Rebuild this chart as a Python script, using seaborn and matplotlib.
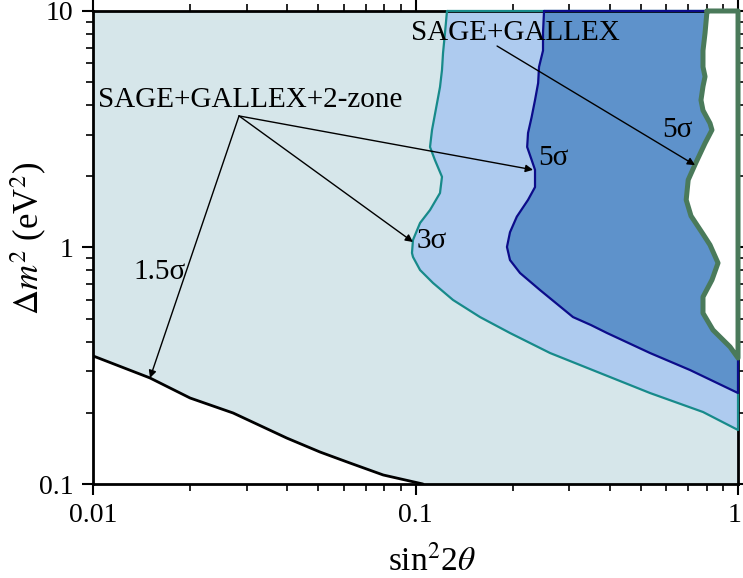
#!/usr/bin/env python3

import seaborn as sns
from matplotlib import pyplot as plt
from matplotlib import ticker as plticker
from matplotlib import transforms as mtransforms


# 1.5 sigma (SAGE+GALLEX+2-zone) lower boundary, black line
x_15s = [0.0100, 0.0150, 0.0200, 0.0272, 0.0399, 0.0506, 0.0626, 0.0794, 0.1055]
y_15s = [0.348, 0.281, 0.231, 0.1996, 0.1564, 0.1365, 0.1227, 0.1092, 0.100]

# 3 sigma (SAGE+GALLEX+2-zone), teal line
x_3s = [0.1252, 0.1234, 0.1217, 0.1208, 0.1191, 0.1166, 0.1125, 0.1109,
        0.1149, 0.1208, 0.1191, 0.1109, 0.1033, 0.0982, 0.0975, 0.0982,
        0.1033, 0.1133, 0.1307, 0.1585, 0.1963, 0.2613, 0.3734, 0.5335,
        0.7787, 1.0]
y_3s = [10.0, 8.07, 6.64, 5.63, 4.77, 4.08, 3.14, 2.66,
        2.34, 1.99, 1.70, 1.44, 1.27, 1.076, 0.948, 0.912,
        0.803, 0.708, 0.600, 0.508, 0.435, 0.358, 0.2946, 0.2425,
        0.2016, 0.1692]

# 5 sigma (SAGE+GALLEX+2-zone), navy line
x_5s = [0.2503, 0.2485, 0.2485, 0.2415, 0.2400, 0.2347, 0.2290, 0.2233,
        0.2219, 0.2290, 0.2347, 0.2347, 0.2233, 0.2061, 0.1963, 0.1921,
        0.1963, 0.2109, 0.2432, 0.3078, 0.3500, 0.3924, 0.5335, 0.7097, 1.0]
y_5s = [10.0, 8.07, 6.80, 5.80, 4.96, 4.20, 3.55, 3.05,
        2.66, 2.35, 2.13, 1.80, 1.59, 1.35, 1.16, 1.005,
        0.885, 0.780, 0.661, 0.508, 0.470, 0.435, 0.358, 0.3034, 0.2425]

# 5 sigma (SAGE+GALLEX), thick green line
x_sg = [0.8014, 0.7902, 0.7787, 0.7787, 0.7902, 0.7787, 0.7676, 0.7787,
        0.8188, 0.8302, 0.7902, 0.7388, 0.7006, 0.6907, 0.7148, 0.7787,
        0.8188, 0.8670, 0.8302, 0.7787, 0.7787, 0.8362, 0.9447, 1.0]
y_sg = [10.0, 8.07, 6.80, 5.80, 5.28, 4.80, 4.20, 3.80,
        3.35, 3.14, 2.76, 2.27, 1.93, 1.59, 1.36, 1.14,
        1.025, 0.860, 0.729, 0.618, 0.528, 0.448, 0.380, 0.341]

x_ticks = [0.01, 0.1, 1]
x_tick_labels = ['0.01', '0.1', '1']
y_ticks = [0.1, 1, 10]
y_tick_labels = ['0.1', '1', '10']
minor_mult = [2, 3, 4, 5, 6, 7, 8, 9]

# annotation anchors (data coords)
src_2zone = (0.02836, 3.60)
tgt_2zone = [(0.01502, 0.2807), (0.0982, 1.055), (0.2314, 2.13)]
src_sg = (0.1790, 7.11)
tgt_sg = (0.7357, 2.23)

labels = [
    ('SAGE+GALLEX+2-zone', 0.01036, 4.20),
    ('SAGE+GALLEX', 0.0968, 8.07),
    ('1.5σ', 0.0133, 0.788),
    ('3σ', 0.1011, 1.065),
    ('5σ', 0.2398, 2.39),
    ('5σ', 0.5813, 3.14),
]

C_BG = '#d6e6ea'
C_3S = '#aecbef'
C_5S = '#5e92cb'
C_TEAL = '#178a8a'
C_NAVY = '#0c0c8a'
C_GREEN = '#4a7a5a'


def closed(xs, ys):
    """Close a contour along the right and top edges of the frame."""
    return list(xs) + [1.0, xs[0]], list(ys) + [10.0, 10.0]


def minor_positions(majors):
    return [m * t for t in majors[:-1] for m in minor_mult]


def main():
    sns.set_theme(style='ticks')
    plt.rcParams['font.family'] = ['Liberation Serif', 'DejaVu Serif']
    plt.rcParams['mathtext.fontset'] = 'stix'
    plt.rcParams['text.color'] = 'black'
    plt.rcParams['axes.labelcolor'] = 'black'

    fig = plt.figure(figsize=(7.43, 5.78), dpi=100)
    ax = fig.add_axes([0.1252, 0.1626, 0.8681, 0.8184])
    ax.set_xscale('log')
    ax.set_yscale('log')
    ax.set_xlim(0.01, 1)
    ax.set_ylim(0.1, 10)
    ax.set_facecolor(C_BG)

    # white area below the 1.5 sigma line
    ax.fill_between(x_15s, 0.1, y_15s, color='white', lw=0, zorder=1)
    # filled regions
    ax.fill(x_3s + [1.0], y_3s + [10.0], color=C_3S, lw=0, zorder=1)
    ax.fill(x_5s + [1.0], y_5s + [10.0], color=C_5S, lw=0, zorder=1)
    ax.fill(x_sg + [1.0], y_sg + [10.0], color='white', lw=0, zorder=1)

    sns.lineplot(x=x_15s, y=y_15s, sort=False, estimator=None, ax=ax,
                 color='black', lw=2.0, zorder=3)
    for xs, ys, col, lw in [(x_3s, y_3s, C_TEAL, 1.6),
                            (x_5s, y_5s, C_NAVY, 1.6),
                            (x_sg, y_sg, C_GREEN, 3.6)]:
        cx, cy = closed(xs, ys)
        sns.lineplot(x=cx, y=cy, sort=False, estimator=None, ax=ax,
                     color=col, lw=lw, zorder=3)
        ax.lines[-1].set_clip_on(False)

    arrow = dict(arrowstyle='-|>', color='black', lw=1.0,
                 mutation_scale=11, shrinkA=0, shrinkB=0)
    for tgt in tgt_2zone:
        ax.annotate('', xy=tgt, xytext=src_2zone, arrowprops=arrow, zorder=4)
    ax.annotate('', xy=tgt_sg, xytext=src_sg, arrowprops=arrow, zorder=4)

    for txt, tx, ty in labels:
        ax.text(tx, ty, txt, ha='left', va='center', fontsize=21,
                color='black', zorder=5)

    ax.xaxis.set_major_locator(plticker.FixedLocator(x_ticks))
    ax.xaxis.set_major_formatter(plticker.FixedFormatter(x_tick_labels))
    ax.yaxis.set_major_locator(plticker.FixedLocator(y_ticks))
    ax.yaxis.set_major_formatter(plticker.FixedFormatter(y_tick_labels))
    ax.xaxis.set_minor_locator(
        plticker.FixedLocator(minor_positions(x_ticks)))
    ax.yaxis.set_minor_locator(
        plticker.FixedLocator(minor_positions(y_ticks)))
    ax.xaxis.set_minor_formatter(plticker.NullFormatter())
    ax.yaxis.set_minor_formatter(plticker.NullFormatter())
    ax.tick_params(which='both', direction='out', top=True, right=True,
                   bottom=True, left=True, colors='black')
    ax.tick_params(which='major', length=8, width=1.5, labelsize=20, pad=6)
    ax.tick_params(which='minor', length=5, width=1.2)
    for sp in ax.spines.values():
        sp.set_linewidth(2.0)
        sp.set_color('black')

    ax.set_xlabel(r'sin$^2$2$\theta$', fontsize=24)
    ax.xaxis.set_label_coords(0.5256, -0.128)
    ax.set_ylabel(r'$\Delta m^2$ (eV$^2$)', fontsize=25, va='center')
    ax.yaxis.set_label_coords(-0.100, 0.52)

    # nudge the last x tick label so it stays inside the figure
    fig.canvas.draw()
    last = ax.get_xticklabels()[-1]
    last.set_transform(last.get_transform() + mtransforms.ScaledTranslation(
        -3 / 100, 0, fig.dpi_scale_trans))

    fig.savefig('out.png', dpi=100)
    plt.close(fig)


if __name__ == '__main__':
    main()
